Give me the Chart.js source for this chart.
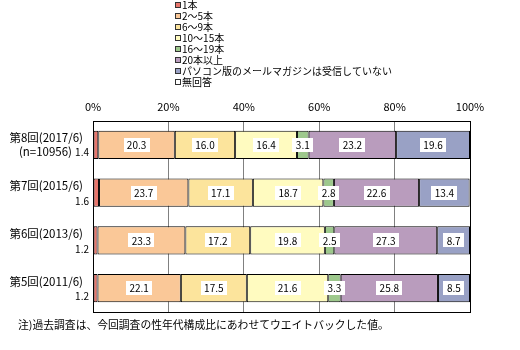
<!DOCTYPE html>
<html>
<head>
<meta charset="utf-8">
<script src="https://cdn.jsdelivr.net/npm/chart.js@4.4.1/dist/chart.umd.min.js"></script>
<style>
  html, body { margin: 0; padding: 0; background: #fff; }
  canvas { display: block; }
</style>
</head>
<body>
<canvas id="chart" width="520" height="350"></canvas>
<script>
// surveys (top to bottom)
const categories = ['第8回(2017/6)', '第7回(2015/6)', '第6回(2013/6)', '第5回(2011/6)'];
const subLabels = ['(n=10956)', '', '', ''];

const seriesNames = ['1本', '2～5本', '6～9本', '10～15本', '16～19本', '20本以上',
  'パソコン版のメールマガジンは受信していない', '無回答'];
const seriesColors = ['#E8766C', '#FAC898', '#FCE49C', '#FFFBC0', '#9DC88C', '#B99CBD', '#99A1C5', '#FFFFFF'];

const one = [1.4, 1.6, 1.2, 1.2];
const twoToFive = [20.3, 23.7, 23.3, 22.1];
const sixToNine = [16.0, 17.1, 17.2, 17.5];
const tenToFifteen = [16.4, 18.7, 19.8, 21.6];
const sixteenToNineteen = [3.1, 2.8, 2.5, 3.3];
const twentyPlus = [23.2, 22.6, 27.3, 25.8];
const notReceiving = [19.6, 13.4, 8.7, 8.5];
const noAnswer = [0, 0, 0, 0];

const seriesValues = [one, twoToFive, sixToNine, tenToFifteen, sixteenToNineteen, twentyPlus, notReceiving, noAnswer];
const xTicks = [0, 20, 40, 60, 80, 100];

const FONT = '"Noto Sans CJK JP", sans-serif';

const drawExtras = {
  id: 'drawExtras',
  afterDatasetsDraw(chart) {
    const ctx = chart.ctx;
    const area = chart.chartArea;
    const yScale = chart.scales.y;
    ctx.save();

    // value boxes
    ctx.font = '10px ' + FONT;
    ctx.textBaseline = 'middle';
    chart.data.datasets.forEach((ds, di) => {
      const meta = chart.getDatasetMeta(di);
      meta.data.forEach((el, i) => {
        const v = ds.data[i];
        if (!v) return;
        const y = el.y;
        if (v < 2) {
          ctx.fillStyle = '#000';
          ctx.textAlign = 'right';
          ctx.fillText(v.toFixed(1), 89, y + (i === 0 ? 7 : 8.5));
          return;
        }
        const cx = (el.x + el.base) / 2;
        const txt = v.toFixed(1);
        const w = Math.round(ctx.measureText(txt).width) + 7;
        ctx.fillStyle = '#fff';
        ctx.fillRect(Math.round(cx - w / 2), Math.round(y - 7), w, 14);
        ctx.fillStyle = '#000';
        ctx.textAlign = 'center';
        ctx.fillText(txt, cx, y + 0.5);
      });
    });

    // plot frame
    ctx.strokeStyle = '#000';
    ctx.lineWidth = 1;
    ctx.strokeRect(Math.round(area.left) + 0.5, Math.round(area.top) + 0.5,
      Math.round(area.right - area.left), Math.round(area.bottom - area.top));

    // category labels
    ctx.font = '11.5px ' + FONT;
    ctx.fillStyle = '#000';
    ctx.textAlign = 'right';
    categories.forEach((c, i) => {
      const y = yScale.getPixelForValue(i);
      ctx.fillText(c, 83, y - 7);
      if (subLabels[i]) ctx.fillText(subLabels[i], 72, y + 7);
    });

    // legend
    ctx.textAlign = 'left';
    ctx.font = '10px ' + FONT;
    seriesNames.forEach((n, i) => {
      const y = 5 + i * 11;
      ctx.fillStyle = seriesColors[i];
      ctx.fillRect(176, y - 2, 5, 5);
      ctx.strokeStyle = '#333';
      ctx.strokeRect(175.5, y - 2.5, 5, 5);
      ctx.fillStyle = '#000';
      ctx.fillText(n, 182, y + 0.5);
    });

    // footnote
    ctx.font = '10.8px ' + FONT;
    ctx.fillText('注)過去調査は、今回調査の性年代構成比にあわせてウエイトバックした値。', 18, 325);
    ctx.restore();
  }
};

new Chart(document.getElementById('chart'), {
  type: 'bar',
  data: {
    labels: categories,
    datasets: seriesNames.map((name, i) => ({
      label: name,
      data: seriesValues[i],
      backgroundColor: seriesColors[i],
      borderColor: '#000',
      borderWidth: 1,
      borderSkipped: false,
      barPercentage: 0.59,
      categoryPercentage: 1
    }))
  },
  options: {
    indexAxis: 'y',
    responsive: false,
    animation: false,
    devicePixelRatio: 1,
    layout: { padding: { left: 93, right: 50, top: 101, bottom: 38 } },
    scales: {
      x: {
        position: 'top',
        stacked: true,
        min: 0,
        max: 100,
        afterFit: (s) => { s.height = 20; },
        afterBuildTicks: (s) => { s.ticks = xTicks.map(v => ({ value: v })); },
        ticks: {
          callback: (v) => v + '%',
          color: '#000',
          font: { family: FONT, size: 11 },
          padding: 8,
          maxRotation: 0
        },
        grid: { color: '#808080', drawTicks: false },
        border: { display: false }
      },
      y: {
        stacked: true,
        display: false
      }
    },
    plugins: {
      legend: { display: false },
      tooltip: { enabled: false }
    }
  },
  plugins: [drawExtras]
});
</script>
</body>
</html>
